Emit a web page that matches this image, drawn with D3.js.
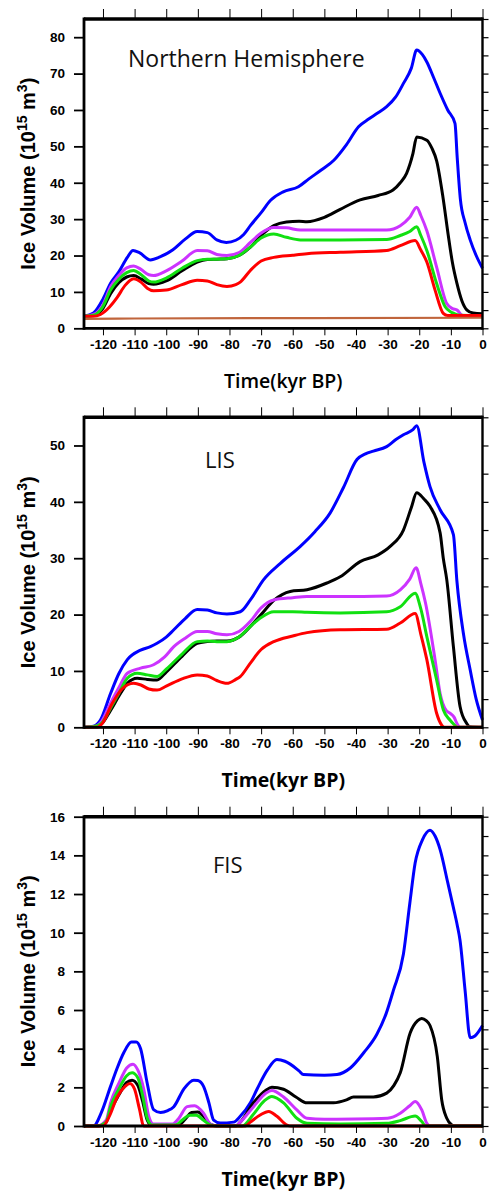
<!DOCTYPE html>
<html>
<head>
<meta charset="utf-8">
<script src="https://cdn.jsdelivr.net/npm/d3@7"></script>
<style>
  body { margin: 0; background: #fff; }
  svg { display: block; }
</style>
</head>
<body>
<svg id="chart" width="489" height="1193"></svg>
<script>
// ---- data: [time (kyr BP), ice volume (10^15 m^3)] ----
const timeTicks = [-120, -110, -100, -90, -80, -70, -60, -50, -40, -30, -20, -10, 0];

const nhBlue = [[-126,3.3],[-123,4.2],[-120,8],[-117.6,12.4],[-115,15.5],[-112.3,19.5],[-110.5,21.4],[-108.5,20.8],[-105,18.8],[-102,19.6],[-98,21.5],[-94,24.5],[-90.2,26.6],[-87,26.3],[-84,24.3],[-81,23.6],[-78,24.2],[-75.5,25.8],[-73.4,28.2],[-70,31.8],[-67,35.2],[-63,37.5],[-58.2,38.9],[-55,41],[-51,43.5],[-47,46.2],[-43,50.5],[-39.2,55.4],[-36,57.5],[-33.4,59],[-30.3,60.9],[-27.5,63.5],[-25,67.3],[-22.5,71.5],[-20.8,76.5],[-19,75.2],[-17.6,73.2],[-15.5,69],[-13.4,64.6],[-11,60],[-8.7,56.3],[-8,47],[-7,35.5],[-5.5,29],[-3.9,24.3],[-2,20],[0,16.5]];
const nhBlack = [[-126,3.3],[-123,3.5],[-120,5.5],[-117.6,9.5],[-115,12.5],[-112.5,14.1],[-110.3,14.5],[-108,13.6],[-105.5,12.3],[-104,12.1],[-100,13],[-95,15.8],[-90.2,18.2],[-87,18.9],[-84,19],[-80.8,19.1],[-77,20],[-73.4,22.3],[-70,25.5],[-66,28.2],[-62,29.2],[-58,29.4],[-55.5,29.3],[-50,30.5],[-45,32.7],[-38.7,35.3],[-33,36.5],[-28.3,38],[-26,40],[-24,42.6],[-22,48],[-20.8,52.6],[-17.6,51.7],[-16,49.5],[-14.5,46],[-12.5,36],[-10.9,26],[-9.5,18],[-8.1,12.4],[-6.5,7.5],[-4.9,5],[-3,4.2],[0,4]];
const nhMagenta = [[-126,3.3],[-123,3.8],[-120,6.5],[-117.6,11.4],[-115,14.5],[-112.5,16.6],[-110.3,17.1],[-108,16.2],[-105.5,14.7],[-104,14.5],[-100,15.8],[-95,18.5],[-90.2,21.4],[-87,21.3],[-84,20.3],[-80.8,20],[-77,20.8],[-73.4,23.6],[-70,26.2],[-66,27.7],[-62,27.6],[-57.6,27],[-45,27],[-30.3,27],[-26,28.2],[-23,30.5],[-20.8,33.3],[-19.5,31],[-17.6,26.8],[-14.5,16.8],[-11.3,6.8],[-9.5,5.4],[-8,5],[-6.5,3.6],[-5,3.4],[0,3.4]];
const nhGreen = [[-126,3.3],[-123,3.6],[-120,6],[-117.6,10.5],[-115,13.5],[-112.5,15.3],[-110.3,15.9],[-108,14.8],[-105.5,13],[-104,12.7],[-100,13.8],[-95,16.5],[-90.2,18.6],[-87,19],[-84,19],[-80.8,19.1],[-77,20],[-73.4,22.3],[-70,24.8],[-66,25.9],[-62,25],[-57.6,24.3],[-45,24.3],[-30.3,24.4],[-26,25.5],[-23,26.6],[-20.8,27.9],[-19.5,25.5],[-17.6,21.4],[-14.5,12.3],[-11.8,5.9],[-10,4.5],[-9,4.1],[-7,3.6],[0,3.5]];
const nhRed = [[-126,3.3],[-123,3.3],[-120.8,3.8],[-118,5.8],[-115.5,8.5],[-113,11.8],[-110.3,13.6],[-108,12.7],[-106,11],[-104,10.3],[-100,10.5],[-95,12],[-90.2,13.2],[-87,13],[-84,12],[-80.8,11.5],[-78,12],[-76.6,12.7],[-73.4,15.9],[-70,18.5],[-66,19.5],[-60,20.1],[-55.5,20.5],[-45,20.9],[-30.3,21.4],[-26,22.7],[-21.3,24.1],[-19.5,21.5],[-17.6,18.2],[-15,10.5],[-12.4,4.1],[-11,3.5],[0,3.5]];
const nhBrown = [[-126,2.6],[-110,2.7],[-55,2.8],[0,2.9]];

const lisBlue = [[-126,0],[-123,0.2],[-120.8,1.3],[-117.6,6],[-115,9.5],[-112.3,12],[-108.1,13.7],[-105,14.3],[-102.9,14.9],[-100,16],[-97.6,17.3],[-94,19.3],[-90.2,20.9],[-87,20.8],[-84,20.3],[-80.8,20.1],[-76.6,20.5],[-73.4,22.6],[-69.2,26.2],[-63.9,29.1],[-57.6,32.1],[-53,34.7],[-48.2,38],[-44,42.5],[-39.7,47.5],[-37,48.5],[-34.5,49],[-30.3,49.8],[-27.5,51],[-25,51.9],[-22,52.8],[-20.8,53.5],[-18.5,47],[-16.6,42.7],[-13.4,38.6],[-9.2,34.2],[-8.1,26],[-6,16.5],[-3.9,10.2],[-2,5],[0,1.3]];
const lisBlack = [[-126,0],[-123,0.1],[-120.5,0.6],[-117.6,3],[-115,5.5],[-112.3,7.8],[-109.2,8.7],[-106,8.5],[-102.9,8.4],[-100,9.8],[-95,12.6],[-90.2,14.9],[-87,15.2],[-84,15.3],[-80.8,15.3],[-77,16],[-73.4,17.9],[-70,20],[-66,22.5],[-60.8,24.1],[-55.5,24.4],[-49.2,25.6],[-45,26.7],[-38.7,29.4],[-33,30.6],[-29.2,32.1],[-25,35],[-22.5,39],[-20.8,41.6],[-18.5,40.5],[-16.6,39.2],[-13.4,34.5],[-12.4,30],[-11.3,26.2],[-9.2,14.3],[-7.1,3.7],[-5,0.7],[-4,0.1],[0,0]];
const lisMagenta = [[-126,0],[-123,0.1],[-120.5,1],[-117.6,4.3],[-115,7],[-112.3,9.6],[-108.1,10.5],[-104,11.1],[-100.5,12.5],[-97.6,14.3],[-94,15.8],[-90.2,17],[-87,17],[-84,16.6],[-80.8,16.4],[-77,17],[-73.4,18.8],[-70,21.2],[-66,22.6],[-60,23],[-55.5,23.2],[-45,23.2],[-30.3,23.3],[-26,24.4],[-23,26.3],[-21,28.3],[-19.5,25.5],[-18,22],[-15,12],[-13.4,6],[-11.5,3],[-10.3,2.5],[-9,1.8],[-8,0.6],[-7,0],[0,0]];
const lisGreen = [[-126,0],[-123,0.1],[-120.5,0.7],[-117.6,3.4],[-115,6],[-112.3,8.7],[-109.2,9.6],[-106,9.3],[-102.9,9],[-100,10.3],[-95,13],[-90.2,15.2],[-87,15.3],[-84,15.2],[-80.8,15.2],[-77,16],[-73.4,17.9],[-70,19.5],[-66,20.5],[-60,20.5],[-55.5,20.4],[-45,20.3],[-30.3,20.5],[-26,21.4],[-21.3,23.8],[-19.5,21],[-17.6,16.1],[-14.5,8.4],[-12.4,3.1],[-10.3,1.3],[-9,0.5],[-8,0],[0,0]];
const lisRed = [[-126,0],[-122,0],[-120.2,0.7],[-117,4.3],[-114,6.8],[-110.3,7.8],[-108,7.5],[-105.5,6.8],[-102.9,6.6],[-100,7.3],[-95,8.6],[-90.2,9.3],[-87,9.1],[-84,8.3],[-80.8,7.8],[-78,8.5],[-76.6,9],[-73.4,11.4],[-70,13.8],[-66,15.2],[-60,16.2],[-55.5,16.8],[-45,17.3],[-30.3,17.4],[-26,18.5],[-21.3,20.2],[-19.5,16.5],[-17.6,12],[-14.5,2.5],[-12.9,0.4],[-12,0],[0,0]];
const lisBrown = [[-126,0],[0,0]];

const fisBlue = [[-126,0],[-123,0],[-120.5,0.7],[-117.6,2.05],[-115.5,3],[-113.4,3.8],[-111,4.35],[-109.5,4.35],[-108.1,4.0],[-106,2.2],[-104,0.85],[-101.8,0.7],[-99.5,0.8],[-97.6,1.0],[-94.5,1.9],[-91.3,2.37],[-90,2.35],[-88.2,2.05],[-86.5,1.2],[-85,0.3],[-82.9,0.15],[-78.7,0.2],[-76.6,0.5],[-73.4,1.2],[-71.3,1.9],[-68,2.9],[-65,3.44],[-62.5,3.35],[-60.8,3.2],[-58,2.85],[-56.6,2.66],[-50,2.62],[-46,2.66],[-41.8,3.0],[-37.5,3.8],[-33.4,4.75],[-30.5,5.8],[-28.2,7.0],[-25,8.9],[-23,11.5],[-21.3,13.6],[-19,14.8],[-16.6,15.3],[-15,15.0],[-13.4,14.3],[-11,12.6],[-9.2,11.3],[-8,10.4],[-7.1,9.6],[-5.5,7],[-3.9,4.57],[-2.4,4.66],[0,5.2]];
const fisBlack = [[-126,0],[-121.5,0],[-119,0.2],[-117.6,0.8],[-115,1.6],[-112.5,2.25],[-110.8,2.37],[-109,2.1],[-107.5,1.3],[-106,0.3],[-104.5,0.02],[-96,0.05],[-94,0.35],[-92,0.7],[-90,0.72],[-88.2,0.5],[-86,0.08],[-84,0],[-78,0],[-76.6,0.2],[-72.4,1.2],[-68.5,1.85],[-66.6,2.0],[-62.9,1.9],[-59,1.5],[-55.5,1.2],[-47.1,1.2],[-43,1.35],[-40.8,1.5],[-34.5,1.5],[-30.3,1.7],[-28,2.1],[-26,2.75],[-22.9,4.8],[-20.5,5.45],[-19.2,5.56],[-17.8,5.45],[-16.6,5.2],[-14.3,3.6],[-12.9,1.36],[-11.3,0.4],[-9.7,0.05],[-9,0],[0,0]];
const fisMagenta = [[-126,0],[-122,0],[-119,0.3],[-117.6,1.2],[-115,2.2],[-112.5,3.0],[-110.5,3.2],[-109,2.9],[-107.1,1.9],[-105.5,0.5],[-104,0.1],[-98,0.1],[-96,0.4],[-93.4,1.0],[-91,1.05],[-88.2,0.66],[-86,0.1],[-84,0],[-78,0],[-76.6,0.2],[-72.4,1.0],[-68.5,1.7],[-66.6,1.84],[-62.9,1.5],[-58.7,0.83],[-55.5,0.4],[-50,0.35],[-34.5,0.37],[-30,0.4],[-26,0.66],[-23,1.05],[-21.3,1.27],[-19.2,0.83],[-17.6,0.14],[-16.5,0],[0,0]];
const fisGreen = [[-126,0],[-122,0],[-119,0.2],[-117.6,1.0],[-115,1.9],[-112.5,2.6],[-110.8,2.75],[-109,2.5],[-107.5,1.6],[-106,0.4],[-104.5,0.05],[-97,0.05],[-95,0.3],[-92.5,0.55],[-90.5,0.55],[-88.2,0.3],[-86,0.05],[-84,0],[-76,0],[-72.5,0.6],[-69,1.3],[-66.6,1.53],[-62.9,1.2],[-58.7,0.4],[-55.5,0.14],[-45,0.1],[-30.3,0.14],[-26,0.28],[-21.3,0.52],[-19.2,0.23],[-18,0],[0,0]];
const fisRed = [[-126,0],[-120,0],[-118,0.5],[-115.5,1.5],[-113,2.05],[-111.5,2.2],[-110,1.9],[-108.5,0.9],[-107.1,0],[-75,0],[-73.4,0.2],[-70.3,0.57],[-67.6,0.75],[-65,0.5],[-61.8,0.05],[-60.5,0],[0,0]];
const fisBrown = [[-126,0],[0,0]];

const COLORS = { blue: "#0000ff", black: "#000000", magenta: "#cc33ff", green: "#11e011", red: "#ff0000", brown: "#c0653c" };

const panels = [
  { title: "Northern Hemisphere", titleSize: 23, titleX: 128, titleY: 67, top: 19, bottom: 328.3, yMax: 85, major: 10, minor: 5, timeWeight: 600,
    series: [["blue", nhBlue], ["black", nhBlack], ["magenta", nhMagenta], ["green", nhGreen], ["red", nhRed], ["brown", nhBrown]] },
  { title: "LIS", titleSize: 22, titleX: 205, titleY: 468, top: 417.3, bottom: 727.3, yMax: 55, major: 10, minor: 5, timeWeight: "bold",
    series: [["blue", lisBlue], ["black", lisBlack], ["magenta", lisMagenta], ["green", lisGreen], ["red", lisRed], ["brown", lisBrown]] },
  { title: "FIS", titleSize: 22, titleX: 213, titleY: 873, top: 816.7, bottom: 1126, yMax: 16, major: 2, minor: 1, timeWeight: "bold",
    series: [["blue", fisBlue], ["black", fisBlack], ["magenta", fisMagenta], ["green", fisGreen], ["red", fisRed], ["brown", fisBrown]] }
];

const svg = d3.select("#chart");
const left = 84, right = 482.5;

const xScale = d3.scaleLinear().domain([-126, 0]).range([left, right]);
const minorTimes = d3.range(-126, 1, 1);

panels.forEach(p => {
  const yScale = d3.scaleLinear().domain([0, p.yMax]).range([p.bottom, p.top]);
  const g = svg.append("g");

  // data lines
  const line = d3.line()
    .x(d => xScale(d[0]))
    .y(d => yScale(d[1]))
    .curve(d3.curveMonotoneX);

  p.series.forEach(s => {
    g.append("path")
      .datum(s[1])
      .attr("fill", "none")
      .attr("stroke", COLORS[s[0]])
      .attr("stroke-width", s[0] == "brown" ? 2.2 : 3)
      .attr("stroke-linejoin", "round")
      .attr("d", line);
  });

  // bottom axis
  const xAxisG = g.append("g").attr("transform", `translate(0,${p.bottom})`);
  xAxisG.call(d3.axisBottom(xScale).tickValues(minorTimes).tickSize(4).tickFormat(""));
  xAxisG.call(d3.axisBottom(xScale).tickValues(timeTicks).tickSize(7).tickPadding(4)
    .tickFormat(d => d));
  xAxisG.selectAll(".domain").remove();
  xAxisG.selectAll("line").attr("stroke", "#000").attr("stroke-width", 1);
  xAxisG.selectAll("text")
    .attr("font-family", "Liberation Sans, Arial, sans-serif")
    .attr("font-weight", "bold")
    .attr("font-size", "13.5px")
    .attr("fill", "#000");

  // top axis
  const topG = g.append("g").attr("transform", `translate(0,${p.top})`);
  topG.call(d3.axisTop(xScale).tickValues(minorTimes).tickSize(5).tickFormat(""));
  topG.call(d3.axisTop(xScale).tickValues(timeTicks).tickSize(10).tickFormat(""));
  topG.selectAll(".domain").remove();
  topG.selectAll("line").attr("stroke", "#000").attr("stroke-width", 1);

  // left axis
  const minorVals = d3.range(0, p.yMax + 0.001, p.minor);
  const majorVals = d3.range(0, p.yMax + 0.001, p.major);
  const yAxisG = g.append("g").attr("transform", `translate(${left},0)`);
  yAxisG.call(d3.axisLeft(yScale).tickValues(minorVals).tickSize(6).tickFormat(""));
  yAxisG.call(d3.axisLeft(yScale).tickValues(majorVals).tickSize(10).tickPadding(9));
  yAxisG.selectAll(".domain").remove();
  yAxisG.selectAll("line").attr("stroke", "#000").attr("stroke-width", 1.8);
  yAxisG.selectAll("text")
    .attr("font-family", "Liberation Sans, Arial, sans-serif")
    .attr("font-weight", "bold")
    .attr("font-size", "13.5px")
    .attr("fill", "#000");

  // right axis
  const rightG = g.append("g").attr("transform", `translate(${right},0)`);
  rightG.call(d3.axisRight(yScale).tickValues(minorVals).tickSize(6).tickFormat(""));
  rightG.selectAll(".domain").remove();
  rightG.selectAll("line").attr("stroke", "#000").attr("stroke-width", 1.2);

  // frame
  g.append("line").attr("x1", left).attr("x2", right).attr("y1", p.top).attr("y2", p.top)
    .attr("stroke", "#000").attr("stroke-width", 3.5);
  g.append("line").attr("x1", left).attr("x2", right).attr("y1", p.bottom).attr("y2", p.bottom)
    .attr("stroke", "#000").attr("stroke-width", 2.8);
  g.append("line").attr("x1", left).attr("x2", left).attr("y1", p.top - 1.5).attr("y2", p.bottom + 1.4)
    .attr("stroke", "#000").attr("stroke-width", 2.8);
  g.append("line").attr("x1", right).attr("x2", right).attr("y1", p.top - 1.5).attr("y2", p.bottom + 1.4)
    .attr("stroke", "#000").attr("stroke-width", 2.4);

  // panel title
  g.append("text")
    .text(p.title)
    .attr("x", p.titleX)
    .attr("y", p.titleY)
    .attr("font-family", "Open Sans, sans-serif")
    .attr("font-size", p.titleSize + "px")
    .attr("fill", "#111");

  // x axis title
  g.append("text")
    .text("Time(kyr BP)")
    .attr("x", (left + right) / 2)
    .attr("y", p.bottom + 60)
    .attr("text-anchor", "middle")
    .attr("font-family", "Open Sans, sans-serif")
    .attr("font-weight", p.timeWeight)
    .attr("font-size", "19.5px")
    .attr("fill", "#000");

  // y axis title
  const yt = g.append("text")
    .attr("transform", `translate(35,${(p.top + p.bottom) / 2}) rotate(-90)`)
    .attr("text-anchor", "middle")
    .attr("font-family", "Liberation Sans, Arial, sans-serif")
    .attr("font-weight", "bold")
    .attr("font-size", "20px")
    .attr("fill", "#000");
  yt.append("tspan").text("Ice Volume (10");
  yt.append("tspan").text("15").attr("font-size", "14px").attr("dy", -8);
  yt.append("tspan").text(" m").attr("dy", 8);
  yt.append("tspan").text("3").attr("font-size", "14px").attr("dy", -8);
  yt.append("tspan").text(")").attr("dy", 8);
});
</script>
</body>
</html>
